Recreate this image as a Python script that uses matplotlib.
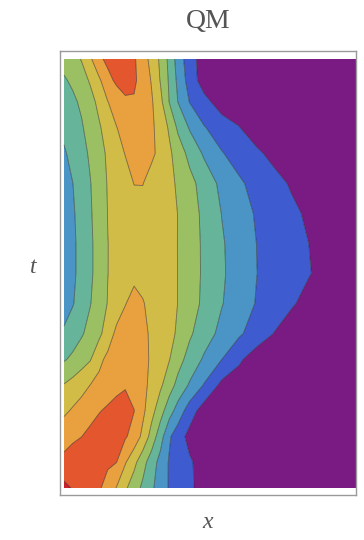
import matplotlib.pyplot as plt
import numpy as np

# grid of the density |psi(x,t)|^2, in units of contour bands
x_grid = [0, 0.03, 0.06, 0.09, 0.12, 0.15, 0.18, 0.21, 0.24, 0.27, 0.30, 0.33,
          0.36, 0.39, 0.43, 0.48, 0.54, 0.60, 0.66, 0.72, 0.78, 0.84, 0.90, 1.0]
t_grid = [1.0, 0.95, 0.9, 0.84, 0.78, 0.71, 0.64, 0.57, 0.5, 0.43, 0.36, 0.30,
          0.24, 0.18, 0.12, 0.06, 0.0]

density = [
    [3.8, 4.16, 4.55, 5.35, 6.28, 6.76, 7.11, 6.96, 6.62, 5.97, 5.17, 4.33, 3.25, 2.07, 0.92, 0, 0, 0, 0, 0, 0, 0, 0, 0],
    [3.4, 3.65, 4.1, 4.61, 5.33, 6.18, 6.7, 6.99, 6.65, 6.13, 5.43, 4.45, 3.38, 2.28, 1.08, 0, 0, 0, 0, 0, 0, 0, 0, 0],
    [3.1, 3.33, 3.65, 4.16, 4.75, 5.48, 5.89, 6.29, 6.41, 6.01, 5.61, 4.79, 3.49, 2.49, 1.47, 0.82, 0, 0, 0, 0, 0, 0, 0, 0],
    [2.7, 3.05, 3.4, 3.87, 4.38, 4.93, 5.48, 5.79, 6.1, 5.99, 5.66, 5.13, 4.38, 3.33, 2.41, 1.56, 1.02, 0.53, 0, 0, 0, 0, 0, 0],
    [2.4, 2.74, 3.18, 3.64, 4.15, 4.65, 5.11, 5.54, 5.81, 5.92, 5.66, 5.27, 4.7, 4.04, 3.21, 2.36, 1.56, 1.1, 0.66, 0.23, 0, 0, 0, 0],
    [2.2, 2.49, 2.97, 3.46, 4.03, 4.56, 4.85, 5.13, 5.52, 5.52, 5.17, 4.93, 4.69, 4.4, 3.82, 3.08, 2.26, 1.64, 1.19, 0.8, 0.39, 0, 0, 0],
    [2.1, 2.39, 2.84, 3.39, 3.97, 4.52, 4.73, 4.94, 5.15, 5.24, 5.06, 4.87, 4.69, 4.49, 3.95, 3.27, 2.48, 1.92, 1.4, 1.05, 0.69, 0.34, 0, 0],
    [2.0, 2.34, 2.78, 3.33, 3.9, 4.49, 4.69, 4.88, 5.07, 5.15, 4.99, 4.82, 4.67, 4.49, 3.97, 3.33, 2.6, 2.03, 1.49, 1.16, 0.82, 0.49, 0.16, 0],
    [2.0, 2.34, 2.78, 3.33, 3.9, 4.49, 4.74, 4.99, 5.24, 5.25, 5.06, 4.87, 4.69, 4.49, 3.97, 3.34, 2.63, 2.06, 1.51, 1.19, 0.86, 0.54, 0.2, 0],
    [2.2, 2.44, 2.91, 3.46, 4.0, 4.54, 5.01, 5.46, 5.86, 5.55, 5.28, 5.02, 4.76, 4.49, 3.95, 3.29, 2.55, 1.98, 1.44, 1.02, 0.6, 0.19, 0, 0],
    [2.6, 3.0, 3.39, 3.82, 4.25, 5.04, 5.71, 6.03, 6.04, 5.7, 5.37, 5.06, 4.75, 4.38, 3.65, 2.95, 2.23, 1.64, 1.04, 0.47, 0, 0, 0, 0],
    [3.4, 3.7, 4.06, 4.43, 5.28, 5.71, 5.99, 6.27, 6.11, 5.75, 5.38, 4.96, 4.55, 3.88, 3.13, 2.36, 1.51, 0.65, 0, 0, 0, 0, 0, 0],
    [4.55, 4.84, 5.17, 5.51, 5.74, 5.98, 6.22, 6.45, 6.17, 5.75, 5.26, 4.67, 3.95, 3.21, 2.39, 1.43, 0.25, 0, 0, 0, 0, 0, 0, 0],
    [5.3, 5.62, 5.89, 6.17, 6.44, 6.66, 6.87, 6.73, 6.52, 5.72, 4.84, 3.9, 2.94, 2.08, 0.99, 0, 0, 0, 0, 0, 0, 0, 0, 0],
    [6.2, 6.35, 6.49, 6.75, 7.01, 6.98, 6.79, 6.6, 6.14, 5.24, 4.1, 2.93, 1.64, 0.97, 0.19, 0, 0, 0, 0, 0, 0, 0, 0, 0],
    [6.7, 6.92, 7.08, 6.93, 6.79, 6.65, 6.51, 5.58, 4.77, 3.86, 2.99, 2.16, 1.42, 1.08, 0.63, 0.08, 0, 0, 0, 0, 0, 0, 0, 0],
    [7.8, 7.42, 7.15, 6.88, 6.62, 6.13, 5.45, 4.65, 3.96, 3.3, 2.67, 2.01, 1.43, 1.09, 0.66, 0.13, 0, 0, 0, 0, 0, 0, 0, 0],
]

levels = [-1, 0.5, 1.5, 2.5, 3.5, 4.5, 5.5, 6.5, 7.5, 9]
band_colors = ['#7a1b84', '#3e5ccf', '#4a94c6', '#66b59a', '#9bc063',
               '#d0bc47', '#e9a03e', '#e4572e', '#c9202b']

fig = plt.figure(figsize=(3.64, 5.40), dpi=100)
ax = fig.add_axes([60 / 364, 45 / 540, 296 / 364, 444 / 540])

z = np.array(density)
ax.contourf(x_grid, t_grid, z, levels=levels, colors=band_colors, antialiased=True)
ax.contour(x_grid, t_grid, z, levels=levels[1:-1], colors='#1a1a1a',
           linewidths=0.6, alpha=0.55)

ax.set_xlim(-4 / 292, 1.0)
ax.set_ylim(-7 / 429, 1 + 8 / 429)
ax.set_xticks([])
ax.set_yticks([])
for sp in ax.spines.values():
    sp.set_color('#9a9a9a')
    sp.set_linewidth(1.0)

serif = ['Liberation Serif', 'DejaVu Serif']
fig.text(208 / 364, 1 - 22 / 540, 'QM', ha='center', va='center',
         fontsize=20, color='#555555', family=serif)
fig.text(33 / 364, 1 - 268 / 540, 't', ha='center', va='center',
         fontsize=17, color='#555555', family=serif, style='italic')
fig.text(208 / 364, 1 - 522 / 540, 'x', ha='center', va='center',
         fontsize=17, color='#555555', family=serif, style='italic')

fig.savefig('out.png', dpi=100)
